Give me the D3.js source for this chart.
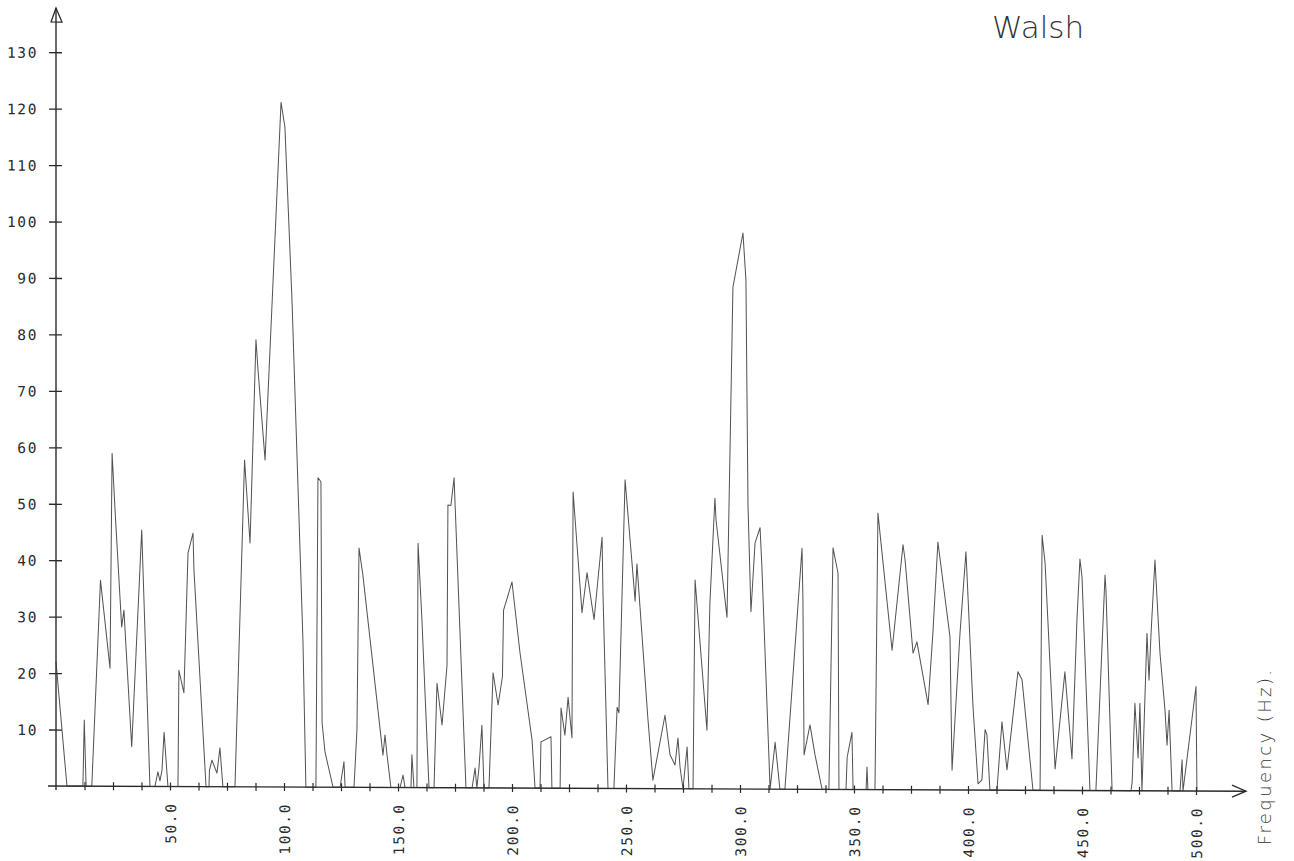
<!DOCTYPE html>
<html>
<head>
<meta charset="utf-8">
<script src="https://cdn.jsdelivr.net/npm/d3@7/dist/d3.min.js"></script>
<style>
  html, body { margin: 0; padding: 0; background: #fff; }
  svg { display: block; }
</style>
</head>
<body>
<svg id="chart" width="1294" height="861"></svg>
<script>
// ---- data ----
const titleText = "Walsh";
const xAxisLabel = "Frequency (Hz).";
const yTicks = [10, 20, 30, 40, 50, 60, 70, 80, 90, 100, 110, 120, 130];
const xMajorTicks = [50, 100, 150, 200, 250, 300, 350, 400, 450, 500];
const xMinorStep = 12.5;

const freq = [0,4.8,11.8,12.4,13.2,15.7,19.5,23.7,24.6,25.9,28.8,29.8,30.7,33.2,37.6,41.2,43.4,44.7,45.6,46.5,47.4,49.1,
  53.5,53.9,56.1,57.9,60.1,60.5,65.8,67.1,67.3,68.4,70.6,71.9,73.2,78.5,82.7,85.1,87.7,88.6,91.7,98.7,100.4,103.5,108.3,109.6,
  114.0,114.9,116.2,116.7,118.0,121.5,124.6,126.3,126.8,130.7,132.0,132.9,134.6,142.1,143.4,144.3,145.2,146.9,150.9,152.2,153.1,
  155.7,156.1,157.0,158.3,158.8,160.5,163.6,165.8,167.1,169.3,171.5,171.9,173.2,174.6,179.8,182.5,183.8,184.6,185.5,186.8,187.7,
  189.9,191.7,193.9,195.8,196.3,200.0,203.5,208.8,210.1,212.3,212.7,217.1,217.5,221.1,221.5,223.2,224.6,226.3,226.8,230.7,232.9,
  236.0,239.5,239.9,242.1,244.7,246.1,246.9,249.6,252.6,254.0,254.8,259.6,261.8,267.1,269.3,271.5,272.8,273.7,275.0,276.8,277.6,
  279.4,280.3,285.5,286.8,289.0,289.5,294.3,296.9,301.3,302.6,303.5,304.8,306.6,308.8,309.6,313.2,315.4,317.5,319.7,327.2,327.6,
  328.1,330.7,332.9,336.0,339.0,340.8,343.0,343.4,346.5,347.0,349.1,349.6,355.3,355.7,356.1,359.2,360.5,362.3,366.7,371.5,372.4,
  375.9,377.6,382.5,384.6,386.8,392.1,393.0,396.5,399.1,402.2,404.4,406.1,407.5,408.3,409.6,412.7,414.9,417.1,421.9,423.7,428.5,
  431.6,432.5,433.8,438.2,442.5,445.6,447.8,449.1,450.0,453.5,456.1,460.1,460.5,463.2,471.5,472.0,473.2,474.6,475.4,476.3,478.5,
  479.4,480.3,482.0,484.2,486.4,487.3,488.2,489.5,493.0,493.9,494.3,500.0,500.4];

const amp = [22.0,0,0,11.7,0,0,36.5,20.9,59.0,48.9,28.2,31.2,24.7,7.0,45.4,0,0,2.6,1.0,2.9,9.6,0,
  0,20.6,16.6,41.4,44.9,38.4,0,0,2.9,4.7,2.4,6.9,0,0,57.9,43.2,79.2,73.9,57.9,121.3,116.9,86.3,26.1,0,
  0,54.8,54.1,11.4,6.2,0,0,4.5,0,0,10.2,42.4,37.6,10.5,5.7,9.3,5.7,0,0,2.2,0,
  0,5.8,0,0,43.3,29.7,0,0,18.5,11.1,21.7,50.1,50.0,54.9,0,0,3.5,0,3.5,11.1,0,
  0,20.4,14.7,19.7,31.5,36.5,24.0,8.5,0,0,8.2,9.1,0,0,14.2,9.4,16.1,8.9,52.5,31.1,38.2,
  29.9,44.5,34.6,0,0,14.4,13.4,54.7,40.1,33.2,39.8,12.4,1.5,13.0,6.0,4.2,9.0,3.8,0,7.4,0,
  0,37.0,10.4,32.9,51.5,47.6,30.4,88.9,98.5,90.2,50.4,31.4,43.6,46.3,39.4,0,8.3,0,0,42.7,33.5,
  6.1,11.4,6.1,0,0,42.8,38.3,0,0,5.7,10.1,0,0,4.0,0,0,49.0,41.9,24.7,43.4,40.7,
  24.2,26.2,15.1,27.8,43.9,27.1,3.5,27.8,42.2,14.7,1.1,1.8,10.7,9.8,0,0,12.1,3.6,21.0,19.6,0,
  0,45.2,40.3,3.8,21.0,5.6,30.4,41.0,37.8,0,0,38.2,35.6,0,0,1.5,15.5,5.8,15.5,0,27.9,
  19.6,28.0,40.9,24.4,14.3,8.1,14.3,0,0,5.5,0,18.5,0];

// ---- layout ----
const originX = 56, originY = 786;
const plotW = 1140, plotH = 733.8;

const svg = d3.select("#chart");
svg.append("rect").attr("width", 1294).attr("height", 861).attr("fill", "#fff");

// the plotter's x axis runs very slightly downhill; model it with a small skew
const g = svg.append("g")
  .attr("transform", `translate(${originX},${originY}) skewY(0.25)`);

const x = d3.scaleLinear().domain([0, 500]).range([0, plotW]);
const y = d3.scaleLinear().domain([0, 130]).range([0, -plotH]);

const ink = "#2a2a2a";
const monoFont = "'DejaVu Sans Mono', 'Liberation Mono', monospace";

// y axis ticks + labels
const yAxis = d3.axisLeft(y).tickValues(yTicks).tickSize(6).tickPadding(12)
  .tickFormat(d3.format("d"));
const gy = g.append("g").call(yAxis);
gy.select(".domain").remove();
gy.selectAll(".tick line").attr("x1", 6).attr("x2", -7).attr("stroke", ink).attr("stroke-width", 1.3);
gy.selectAll(".tick text")
  .attr("fill", "#2a2a2a")
  .attr("font-family", monoFont)
  .attr("font-size", 14.5)
  .attr("letter-spacing", 1.6)
  .attr("dy", "0.36em");

// x axis minor ticks
const minorTicks = d3.range(xMinorStep, 500 + 0.01, xMinorStep);
const xAxis = d3.axisBottom(x).tickValues(minorTicks).tickSize(4)
  .tickFormat(d => xMajorTicks.includes(d) ? d3.format(".1f")(d) : "");
const gx = g.append("g").call(xAxis);
gx.select(".domain").remove();
gx.selectAll(".tick line").attr("y1", -4).attr("y2", 4).attr("stroke", ink).attr("stroke-width", 1.2);
gx.selectAll(".tick text")
  .attr("fill", "#2a2a2a")
  .attr("font-family", monoFont)
  .attr("font-size", 14.5)
  .attr("letter-spacing", 1.6)
  .attr("transform", "rotate(-90)")
  .attr("text-anchor", "end")
  .attr("x", -16)
  .attr("y", 0)
  .attr("dy", "0.36em");

// axis lines with arrows
g.append("line").attr("x1", -8).attr("y1", 0).attr("x2", x(500) + 50).attr("y2", 0)
  .attr("stroke", ink).attr("stroke-width", 1.4);
g.append("path")
  .attr("d", `M${x(500) + 36},-6 L${x(500) + 50},0 L${x(500) + 36},6`)
  .attr("fill", "none").attr("stroke", ink).attr("stroke-width", 1.3);
g.append("line").attr("x1", 0).attr("y1", 4).attr("x2", 0).attr("y2", -778)
  .attr("stroke", ink).attr("stroke-width", 1.4);
g.append("path")
  .attr("d", `M-5,-764 L0,-778 L6,-764 Z`)
  .attr("fill", "none").attr("stroke", ink).attr("stroke-width", 1.3);

// data trace
const pts = freq.map((f, i) => [f, amp[i]]);
const line = d3.line().x(d => x(d[0])).y(d => y(d[1]));
g.append("path")
  .datum(pts)
  .attr("d", line)
  .attr("fill", "none")
  .attr("stroke", "#333")
  .attr("stroke-width", 1)
  .attr("stroke-opacity", 0.85)
  .attr("stroke-linejoin", "round");

// axis title (rotated) and chart title
svg.append("text")
  .attr("transform", "translate(1271,845) rotate(-90)")
  .attr("font-family", "'DejaVu Sans', sans-serif")
  .attr("font-weight", 300)
  .attr("font-size", 18)
  .attr("letter-spacing", 2.4)
  .attr("fill", "#333")
  .text(xAxisLabel);

svg.append("text")
  .attr("x", 992).attr("y", 38)
  .attr("font-family", "'DejaVu Sans', sans-serif")
  .attr("font-weight", 200)
  .attr("font-size", 31)
  .attr("fill", "#333")
  .text(titleText);
</script>
</body>
</html>
